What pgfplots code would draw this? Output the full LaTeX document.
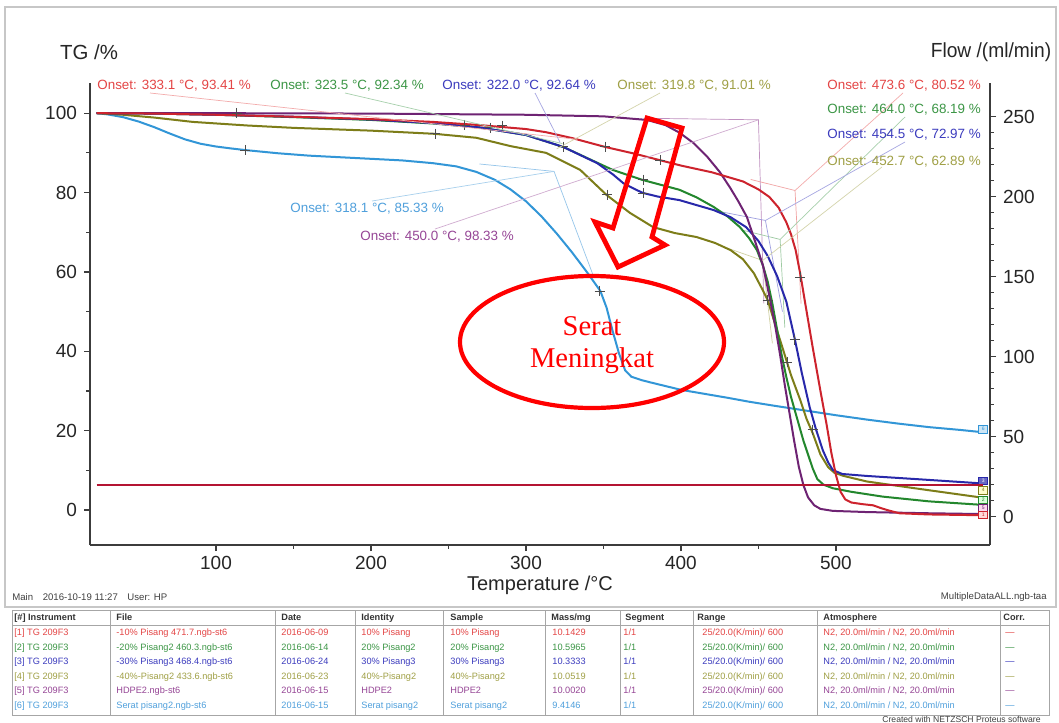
\documentclass[border=0pt]{standalone}
\usepackage{pgfplots}
\pgfplotsset{compat=1.18}
\usepackage{fontspec}
\setmainfont{Liberation Sans}
\newfontfamily\timesfont{Liberation Serif}

% series colours (curve / text)
\definecolor{cRed}{RGB}{205,35,45}
\definecolor{cRedT}{RGB}{228,70,70}
\definecolor{cGreen}{RGB}{35,135,45}
\definecolor{cGreenT}{RGB}{60,150,70}
\definecolor{cBlue}{RGB}{40,40,170}
\definecolor{cBlueT}{RGB}{60,60,190}
\definecolor{cOlive}{RGB}{125,125,25}
\definecolor{cOliveT}{RGB}{160,160,70}
\definecolor{cPurple}{RGB}{110,35,115}
\definecolor{cPurpleT}{RGB}{150,70,150}
\definecolor{cSky}{RGB}{50,150,215}
\definecolor{cSkyT}{RGB}{80,160,220}
\definecolor{cFlow}{RGB}{180,20,50}
\definecolor{axgray}{RGB}{60,60,60}

\newcommand\onsetfont{\fontsize{6.7}{8}\selectfont}
\newcommand\tabfont{\fontsize{4.6}{5.5}\selectfont}

% one row of the measurement table
\newcommand\trow[7]{%
  \begin{scope}[every node/.style={anchor=base west, inner sep=0pt, text=#2, font=\tabfont}]
  \node at (14,#1) {[#3] TG 209F3};
  \node at (116,#1) {#4};
  \node at (281,#1) {#5};
  \node at (361,#1) {#6};
  \node at (450,#1) {#6};
  \node at (552,#1) {#7};
  \node at (623,#1) {1/1};
  \node at (702,#1) {25/20.0(K/min)/ 600};
  \node at (823,#1) {N2, 20.0ml/min / N2, 20.0ml/min};
  \node at (1005,#1) {---};
  \end{scope}}

\begin{document}
\begin{tikzpicture}
\begin{scope}[x=0.5pt,y=-0.5pt]
\useasboundingbox (0,0) rectangle (1059,720);
\fill[white] (0,0) rectangle (1059,720);
\draw[black!22, line width=0.7pt] (5,7) rectangle (1056,607);
\draw[black!35, line width=0.5pt] (12,610) rectangle (1049,715);
\draw[black!35, line width=0.4pt] (12,625) -- (1049,625);
\foreach \cx in {110,275,355,443,545,620,693,817,1000}
  \draw[black!35, line width=0.4pt] (\cx,610) -- (\cx,715);
\end{scope}

% ---------------- TG axis ----------------
\begin{axis}[
  at={(45pt,-272.5pt)}, anchor=south west, scale only axis,
  width=450pt, height=231pt,
  xmin=18.7, xmax=599.4, ymin=-8.8, ymax=107.6,
  axis x line*=bottom, axis y line*=left,
  xtick={100,200,300,400,500}, minor x tick num=1,
  ytick={0,20,40,60,80,100}, minor y tick num=1,
  tick align=outside, major tick length=3pt, minor tick length=1.8pt,
  tick style={axgray, line width=0.6pt},
  axis line style={axgray, line width=0.9pt},
  ticklabel style={font=\fontsize{9.5}{11}\selectfont, text=black!85},
  xticklabel style={yshift=1pt},
  /pgf/number format/assume math mode=true,
  clip=false,
]
% onset construction lines
\addplot[cSkyT!60, line width=0.35pt] coordinates {(270,87.2) (318.1,85.33) (343,59.5)};
\addplot[cPurpleT!60, line width=0.35pt] coordinates {(380,98.7) (450.0,98.33) (453.5,52)};
\addplot[cRedT!50, line width=0.35pt] coordinates {(445,83.3) (473.6,80.52) (477.5,52)};
\addplot[cGreenT!50, line width=0.35pt] coordinates {(440,70.5) (464.0,68.19) (467,46)};
\addplot[cBlueT!50, line width=0.35pt] coordinates {(420,75.6) (454.5,72.97) (465.5,50)};
\addplot[cOliveT!50, line width=0.35pt] coordinates {(430,66.0) (452.7,62.89) (459,42)};

% [6] Serat pisang2
\addplot[cSky, line width=1pt] coordinates {
(23,100) (30,99.7) (40,99.0) (50,97.9) (60,96.5) (70,94.9) (80,93.4) (90,92.3) (100,91.6)
(110,91.1) (119,90.7) (140,89.9) (160,89.3) (180,88.9) (200,88.5) (220,88.1) (240,87.4)
(255,86.6) (268,85.2) (280,83.2) (290,80.8) (300,77.8) (310,74.0) (320,69.6) (330,64.8)
(340,59.6) (348,55.2) (352,51) (356,45) (360,39.5) (364,35.2) (368,33.6) (375,32.7)
(380,32.2) (400,30.3) (412,29.5) (430,28.3) (444,27.3) (460,26.3) (480,25.1) (500,23.9)
(520,22.8) (540,21.8) (560,20.9) (580,20.2) (595,19.6)};
% [4] 40%-Pisang2
\addplot[cOlive, line width=1pt] coordinates {
(23,100) (40,99.6) (60,98.9) (85,97.8) (120,96.9) (150,96.3) (200,95.6) (241,94.8)
(268,93.8) (290,91.7) (313,90.0) (335,85.7) (352,79.4) (367,74.9) (382,71.3) (396,69.8)
(410,68.8) (422,67.3) (432,65.5) (440,63.2) (447,59.7) (452,56) (456,52.9) (461,46.5)
(466,40.3) (471,34) (477,27.7) (481,23) (485,19.4) (490,14) (495,10.8) (499,9.4)
(505,8.6) (520,7.2) (560,5.0) (595,3.1)};
% [2] 20% Pisang2
\addplot[cGreen, line width=1pt] coordinates {
(23,100) (60,99.9) (100,99.6) (150,99.0) (200,98.3) (240,97.4) (270,96.4) (300,94.5)
(324,91.5) (340,88.6) (356,85.7) (375,83.2) (399,80.7) (410,78.8) (421,76.4) (430,74.0)
(438,71.3) (444,68.5) (449,65.5) (453,61.5) (456,57.5) (459,52) (462,45.5) (465,39)
(468,33.5) (471,28.5) (475,23) (479,17.5) (482,14) (485,10.5) (488,7.8) (492,6.4)
(498,5.5) (510,4.6) (530,3.4) (560,2.2) (595,1.3)};
% [3] 30% Pisang3
\addplot[cBlue, line width=1pt] coordinates {
(23,100) (60,99.9) (100,99.6) (150,99.1) (200,98.4) (240,97.5) (270,96.4) (300,94.5)
(324,91.5) (346,87.4) (356,84.6) (363,82.3) (371.6,80.6) (375.5,79.9) (385,79.0) (399,78.1)
(406,77.3) (421,75.6) (432,73.8) (442,71.3) (450,67.8) (456,64) (462,59) (468,52.5)
(473.5,43) (478,34.5) (483,26) (487,20.5) (491.5,15.1) (495,12) (498,10.1) (504,9.1)
(520,8.6) (560,7.6) (595,6.7)};
% [5] HDPE2
\addplot[cPurple, line width=1pt] coordinates {
(23,100) (100,100) (200,99.9) (300,99.6) (350,99.2) (378,98.3) (390,97.0) (399,95.1)
(408,92.5) (417,89.0) (425,85.2) (431.6,81.3) (437,77.8) (442.6,73.8) (448,67.5) (453,61.5)
(457,54) (461,46) (464,39) (467,31.5) (470,24.5) (473,17.5) (476,11) (479,6.3) (482,3.2)
(486,1.2) (490,0.3) (498,-0.2) (520,-0.5) (560,-0.8) (595,-1.0)};
% [1] 10% Pisang
\addplot[cRed, line width=1pt] coordinates {
(23,100) (60,99.9) (100,99.6) (150,99.1) (200,98.5) (240,97.8) (270,97.0) (300,96.0)
(313,95.2) (330,93.7) (351,91.5) (370,89.8) (386,88.2) (400,86.8) (420,85.1) (440,82.8)
(450,80.8) (457,78.9) (463,76.2) (468,72.5) (471,69.5) (474,65.5) (477,59.5) (480,52.5)
(485,41) (490,30) (494,21.5) (497,14.5) (500,8.8) (503,4.6) (506,2.7) (510,1.9) (517,1.5)
(524,1.2) (529,0.5) (534,-0.1) (541,-0.8) (560,-1.1) (595,-1.3)};

% step markers
\addplot[only marks, mark=+, mark size=2.6pt, black!70, line width=0.45pt] coordinates {
(113.5,100) (118.7,90.7) (241.3,94.8) (260.6,97.0) (276.8,96.3) (284.5,96.8)
(323.9,91.5) (351,91.5) (352.3,79.4) (375.5,83.2) (375.5,79.9) (386.5,88.2)
(347.7,55.2) (476.8,58.7) (456,52.9) (473.5,42.9) (468.4,37.3) (485,20.2)};

% onset points
\coordinate (o1) at (axis cs:333.1,93.41);
\coordinate (o2) at (axis cs:323.5,92.34);
\coordinate (o3) at (axis cs:322.0,92.64);
\coordinate (o4) at (axis cs:319.8,91.01);
\coordinate (o6) at (axis cs:318.1,85.33);
\coordinate (o5) at (axis cs:450.0,98.33);
\coordinate (p1) at (axis cs:473.6,80.52);
\coordinate (p2) at (axis cs:464.0,68.19);
\coordinate (p3) at (axis cs:454.5,72.97);
\coordinate (p4) at (axis cs:452.7,62.89);

% curve end tags
\begin{scope}[every node/.style={draw, line width=0.3pt, minimum width=4.6pt, minimum height=3.8pt, inner sep=0pt, font=\fontsize{2.5}{3}\selectfont}]
\node[draw=cSky, fill=cSky!25, text=cSky] at (axis cs:595,20.4) {6};
\node[draw=cBlue, fill=cBlue!70, text=white] at (axis cs:595,7.4) {3};
\node[draw=cOlive, fill=yellow!20, text=cOlive] at (axis cs:595,5.0) {4};
\node[draw=cGreen, fill=green!15, text=cGreen] at (axis cs:595,2.6) {2};
\node[draw=cPurple, fill=magenta!15, text=cPurple] at (axis cs:595,0.6) {5};
\node[draw=cRed, fill=red!15, text=cRed] at (axis cs:595,-1.2) {1};
\end{scope}
\end{axis}

% ---------------- Flow axis ----------------
\begin{axis}[
  at={(45pt,-272.5pt)}, anchor=south west, scale only axis,
  width=450pt, height=231pt,
  xmin=18.7, xmax=599.4, ymin=-17.7, ymax=271,
  axis x line=none, axis y line*=right,
  ytick={0,50,100,150,200,250}, minor y tick num=4,
  tick align=outside, major tick length=3pt, minor tick length=1.8pt,
  tick style={axgray, line width=0.6pt},
  axis line style={axgray, line width=0.9pt},
  ticklabel style={font=\fontsize{9.5}{11}\selectfont, text=black!85},
  /pgf/number format/assume math mode=true,
]
\addplot[cFlow, line width=1pt] coordinates {(23,20) (595,20)};
\end{axis}

\begin{scope}[x=0.5pt,y=-0.5pt]
% leader lines from the onset labels
\begin{scope}[line width=0.35pt]
\draw[cRedT!45] (150,93) -- (o1);
\draw[cGreenT!45] (345,93) -- (o2);
\draw[cBlueT!45] (535,93) -- (o3);
\draw[cOliveT!45] (660,93) -- (o4);
\draw[cSkyT!50] (372,201) -- (o6);
\draw[cPurpleT!45] (435,229) -- (o5);
\draw[cRedT!45] (903,93) -- (p1);
\draw[cGreenT!45] (905,117) -- (p2);
\draw[cBlueT!45] (905,142) -- (p3);
\draw[cOliveT!45] (882,167) -- (p4);
\end{scope}

% onset labels
\begin{scope}[every node/.style={anchor=west, inner sep=0pt, font=\onsetfont, fill=white, fill opacity=0, text opacity=1}]
\node[text=cRedT] at (97,86) {Onset: 333.1 °C, 93.41 \%};
\node[text=cGreenT] at (270,86) {Onset: 323.5 °C, 92.34 \%};
\node[text=cBlueT] at (442,86) {Onset: 322.0 °C, 92.64 \%};
\node[text=cOliveT] at (617,86) {Onset: 319.8 °C, 91.01 \%};
\node[text=cRedT] at (827,86) {Onset: 473.6 °C, 80.52 \%};
\node[text=cGreenT] at (827,110) {Onset: 464.0 °C, 68.19 \%};
\node[text=cBlueT] at (827,135) {Onset: 454.5 °C, 72.97 \%};
\node[text=cOliveT] at (827,162) {Onset: 452.7 °C, 62.89 \%};
\node[text=cSkyT] at (290,209) {Onset: 318.1 °C, 85.33 \%};
\node[text=cPurpleT] at (360,237) {Onset: 450.0 °C, 98.33 \%};
\end{scope}

% axis titles
\node[font=\fontsize{10.2}{12}\selectfont, text=black!85] at (89,52) {TG /\%};
\node[font=\fontsize{10.2}{12}\selectfont, text=black!85, xscale=0.94] at (991,52) {Flow /(ml/min)};
\node[font=\fontsize{10}{12}\selectfont, text=black!85] at (540,585) {Temperature /°C};

% highlight: hollow arrow and ellipse
\draw[red, line width=2.4pt, line join=miter]
  (647,118) -- (682,128) -- (652,237) -- (665,245) -- (618,267) -- (595,222) -- (613,228) -- cycle;
\draw[red, line width=2.1pt] (592,342) ellipse [x radius=132, y radius=66];
\node[text=red, font=\timesfont\fontsize{14.3}{16}\selectfont] at (592,326) {Serat};
\node[text=red, font=\timesfont\fontsize{14.3}{16}\selectfont] at (592,361) {Meningkat};

% footer of the plot
\node[anchor=west, inner sep=0pt, font=\fontsize{4.8}{5.5}\selectfont, text=black!75] at (12,597) {Main\quad 2016-10-19 11:27\quad User: HP};
\node[anchor=east, inner sep=0pt, font=\fontsize{4.8}{5.5}\selectfont, text=black!75] at (1047,597) {MultipleDataALL.ngb-taa};

% table
\begin{scope}[every node/.style={anchor=base west, inner sep=0pt, font=\tabfont\bfseries, text=black!80}]
\node at (14,620.5) {[\#] Instrument};
\node at (116,620.5) {File};
\node at (281,620.5) {Date};
\node at (361,620.5) {Identity};
\node at (450,620.5) {Sample};
\node at (551,620.5) {Mass/mg};
\node at (625,620.5) {Segment};
\node at (697,620.5) {Range};
\node at (823,620.5) {Atmosphere};
\node at (1003,620.5) {Corr.};
\end{scope}
\trow{635.5}{cRedT}{1}{-10\% Pisang 471.7.ngb-st6}{2016-06-09}{10\% Pisang}{10.1429}
\trow{650}{cGreenT}{2}{-20\% Pisang2 460.3.ngb-st6}{2016-06-14}{20\% Pisang2}{10.5965}
\trow{664.5}{cBlueT}{3}{-30\% Pisang3 468.4.ngb-st6}{2016-06-24}{30\% Pisang3}{10.3333}
\trow{679}{cOliveT}{4}{-40\%-Pisang2 433.6.ngb-st6}{2016-06-23}{40\%-Pisang2}{10.0519}
\trow{693.5}{cPurpleT}{5}{HDPE2.ngb-st6}{2016-06-15}{HDPE2}{10.0020}
\trow{708}{cSkyT}{6}{Serat pisang2.ngb-st6}{2016-06-15}{Serat pisang2}{9.4146}
\node[anchor=north west, inner sep=0pt, font=\fontsize{4.3}{5}\selectfont, text=black!75] at (882,716) {Created with NETZSCH Proteus software};
\end{scope}
\end{tikzpicture}
\end{document}
